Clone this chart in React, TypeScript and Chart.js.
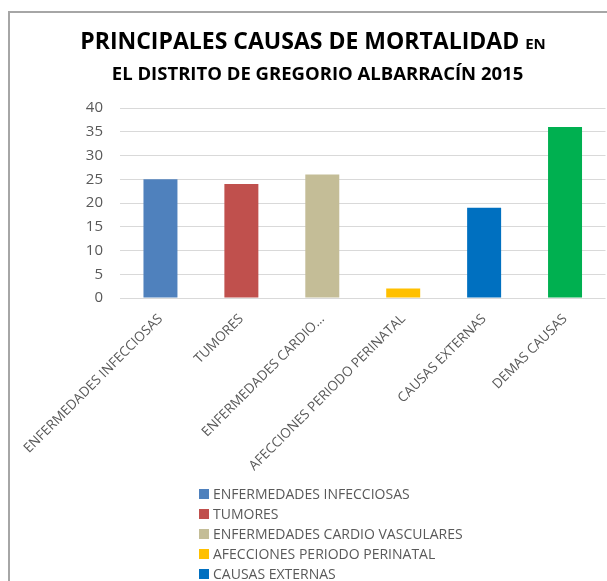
import React, { useEffect, useRef } from "react";
import { Chart, registerables } from "chart.js";

Chart.register(...registerables);

const categories = [
  "ENFERMEDADES INFECCIOSAS",
  "TUMORES",
  "ENFERMEDADES CARDIO VASCULARES",
  "AFECCIONES PERIODO PERINATAL",
  "CAUSAS EXTERNAS",
  "DEMAS CAUSAS",
];
const tickLabels = [
  "ENFERMEDADES INFECCIOSAS",
  "TUMORES",
  "ENFERMEDADES CARDIO...",
  "AFECCIONES PERIODO PERINATAL",
  "CAUSAS EXTERNAS",
  "DEMAS CAUSAS",
];
const values = [25, 24, 26, 2, 19, 36];
const colors = ["#4F81BD", "#C0504D", "#C4BD97", "#FFC000", "#0070C0", "#00B050"];
const yMin = 0;
const yMax = 40;
const yStep = 5;
const titleMain = "PRINCIPALES CAUSAS DE MORTALIDAD";
const titleTail = "EN";
const subtitle = "EL DISTRITO DE GREGORIO ALBARRACÍN 2015";

const FONT = "'Open Sans', 'Noto Sans', sans-serif";
const GRAY = "#595959";

const textPlugin = {
  id: "textPlugin",
  afterDraw(chart: any) {
    const ctx = chart.ctx as CanvasRenderingContext2D;
    ctx.save();
    ctx.fillStyle = "#000";
    ctx.textBaseline = "alphabetic";
    ctx.textAlign = "left";
    const f1 = `bold 23px ${FONT}`;
    const f2 = `bold 15px ${FONT}`;
    ctx.font = f1;
    const w1 = ctx.measureText(titleMain + " ").width;
    ctx.font = f2;
    const w2 = ctx.measureText(titleTail).width;
    const x0 = 313 - (w1 + w2) / 2;
    ctx.font = f1;
    ctx.fillText(titleMain + " ", x0, 49);
    ctx.font = f2;
    ctx.fillText(titleTail, x0 + w1, 49);
    ctx.font = `bold 18.5px ${FONT}`;
    ctx.textAlign = "center";
    ctx.fillText(subtitle, 317.5, 80);

    // legend
    ctx.textAlign = "left";
    ctx.textBaseline = "middle";
    ctx.font = `14px ${FONT}`;
    categories.forEach((c, i) => {
      const y = 494 + i * 20;
      ctx.fillStyle = colors[i];
      ctx.fillRect(199, y - 5, 10, 10);
      ctx.fillStyle = GRAY;
      ctx.fillText(c, 213, y + 1);
    });
    ctx.restore();
  },
};

export default function App() {
  const ref = useRef<HTMLCanvasElement | null>(null);
  useEffect(() => {
    if (!ref.current) return;
    const chart = new Chart(ref.current, {
      type: "bar",
      data: {
        labels: tickLabels,
        datasets: [
          {
            label: "Causas",
            data: values,
            backgroundColor: colors,
            borderWidth: 0,
            barPercentage: 0.42,
            categoryPercentage: 1,
          },
        ],
      },
      options: {
        responsive: false,
        animation: false,
        devicePixelRatio: 1,
        layout: { padding: { top: 108, right: 1.5, bottom: 0, left: 0 } },
        plugins: {
          legend: { display: false },
          title: { display: false },
          tooltip: { enabled: false },
        },
        scales: {
          x: {
            grid: { display: false },
            border: { display: false },
            ticks: {
              autoSkip: false,
              minRotation: 45,
              maxRotation: 45,
              color: GRAY,
              font: { family: FONT, size: 13.5 },
              padding: 5,
              labelOffset: 0,
            },
            afterFit: (s: any) => {
              s.height = 283;
            },
          },
          y: {
            min: yMin,
            max: yMax,
            border: { display: false },
            grid: { color: "#d9d9d9", lineWidth: 1, drawTicks: false },
            ticks: {
              stepSize: yStep,
              color: GRAY,
              font: { family: FONT, size: 15 },
              padding: 17,
            },
            afterFit: (s: any) => {
              s.width = 120;
            },
          },
        },
      },
      plugins: [textPlugin],
    });
    return () => chart.destroy();
  }, []);

  return (
    <div
      style={{
        position: "fixed",
        left: 0,
        top: 0,
        width: 607,
        height: 581,
        overflow: "hidden",
        background: "#fff",
      }}
    >
      <div
        style={{
          position: "absolute",
          left: 8,
          top: 11,
          width: 800,
          height: 800,
          borderLeft: "2px solid #a6a6a6",
          borderTop: "2px solid #a6a6a6",
        }}
      />
      <canvas
        ref={ref}
        width={607}
        height={581}
        style={{ position: "absolute", left: 0, top: 0, width: 607, height: 581 }}
      />
    </div>
  );
}
